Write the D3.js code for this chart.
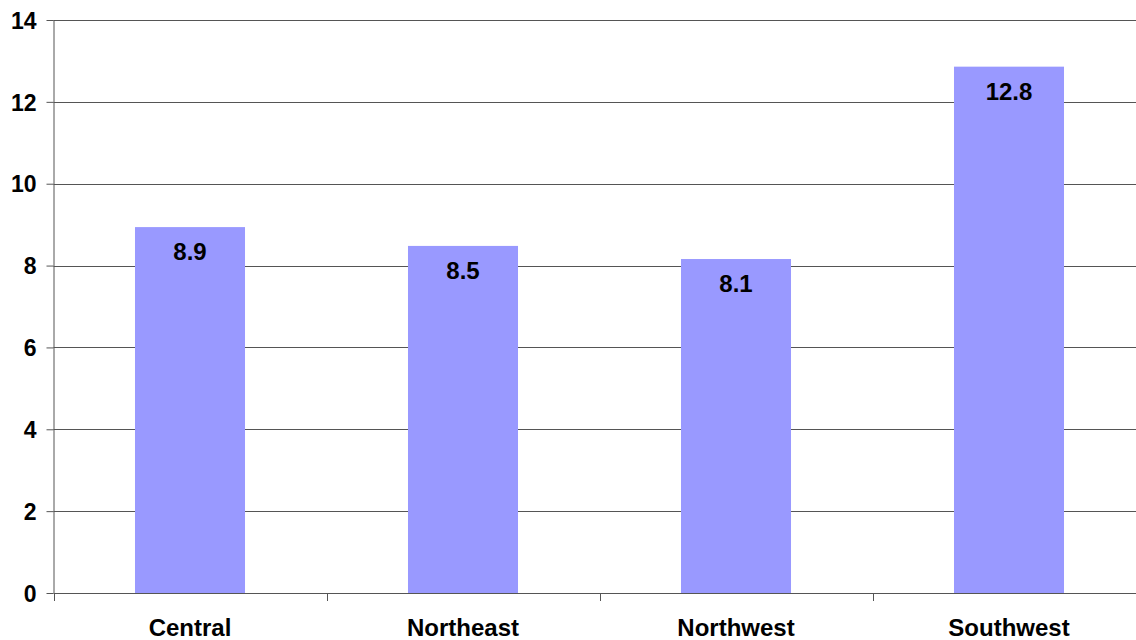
<!DOCTYPE html>
<html><head><meta charset="utf-8">
<script src="https://cdn.jsdelivr.net/npm/d3@7"></script>
<style>
html,body{margin:0;padding:0;background:#fff;}
svg{display:block;}
text{font-family:"Liberation Sans",Arial,sans-serif;font-weight:bold;fill:#000;}
</style></head>
<body><svg id="c" width="1136" height="640"></svg>
<script>
const categories = ["Central", "Northeast", "Northwest", "Southwest"];
const values = [8.94, 8.48, 8.16, 12.86];
const valueLabels = ["8.9", "8.5", "8.1", "12.8"];
const yTicks = [0, 2, 4, 6, 8, 10, 12, 14];

(function () {
const svg = d3.select("#c");
const mLeft = 53.5, mRight = 1145.5, mTop = 20, mBottom = 593;

const x = d3.scaleBand().domain(categories).range([mLeft, mRight]).paddingInner(0).paddingOuter(0);
const y = d3.scaleLinear().domain([0, 14]).range([mBottom, mTop]);

// gridlines
svg.append("g").selectAll("line").data(yTicks.filter(d => d > 0)).join("line")
  .attr("x1", mLeft).attr("x2", mRight)
  .attr("y1", d => Math.round(y(d)) + 0.5).attr("y2", d => Math.round(y(d)) + 0.5)
  .attr("stroke", "#555555").attr("stroke-width", 1);

// bars
const bw = x.bandwidth() * 0.403;
svg.append("g").selectAll("rect").data(categories).join("rect")
  .attr("x", (d) => x(d) + x.bandwidth() / 2 - bw / 2)
  .attr("width", bw)
  .attr("y", (d, i) => y(values[i]))
  .attr("height", (d, i) => y(0) - y(values[i]))
  .attr("fill", "#9999FF");

// value labels
svg.append("g").selectAll("text").data(categories).join("text")
  .attr("x", d => x(d) + x.bandwidth() / 2)
  .attr("y", (d, i) => y(values[i]) + 33)
  .attr("text-anchor", "middle")
  .style("font-size", "24px")
  .text((d, i) => valueLabels[i]);

// y axis
const yAxis = d3.axisLeft(y).tickValues(yTicks).tickSize(7).tickPadding(10).tickFormat(d3.format("d"));
const gy = svg.append("g").attr("transform", `translate(${mLeft},0)`).call(yAxis);
gy.select(".domain").attr("stroke", "#555555").attr("d", `M0.5,${mTop}V${mBottom}`);
gy.selectAll(".tick line").attr("stroke", "#555555");
gy.selectAll(".tick text").style("font-size", "23px").style("font-family", "'Liberation Sans',Arial,sans-serif").style("font-weight", "bold").attr("dy", "0.36em");

// x axis
const xAxis = d3.axisBottom(x).tickSize(0).tickPadding(0);
const gx = svg.append("g").attr("transform", `translate(0,${mBottom})`).call(xAxis);
gx.select(".domain").attr("stroke", "#555555").attr("d", `M${mLeft},0.5H${mRight}`);
gx.selectAll(".tick text").style("font-size", "24px").style("font-family", "'Liberation Sans',Arial,sans-serif").style("font-weight", "bold").attr("y", 43).attr("dy", 0);
// category boundary ticks
const bounds = categories.map(d => x(d)).concat([mRight]);
gx.append("g").selectAll("line").data(bounds).join("line")
  .attr("x1", d => Math.round(d) + 0.5).attr("x2", d => Math.round(d) + 0.5)
  .attr("y1", 0).attr("y2", 8).attr("stroke", "#555555");
})();
</script></body></html>
